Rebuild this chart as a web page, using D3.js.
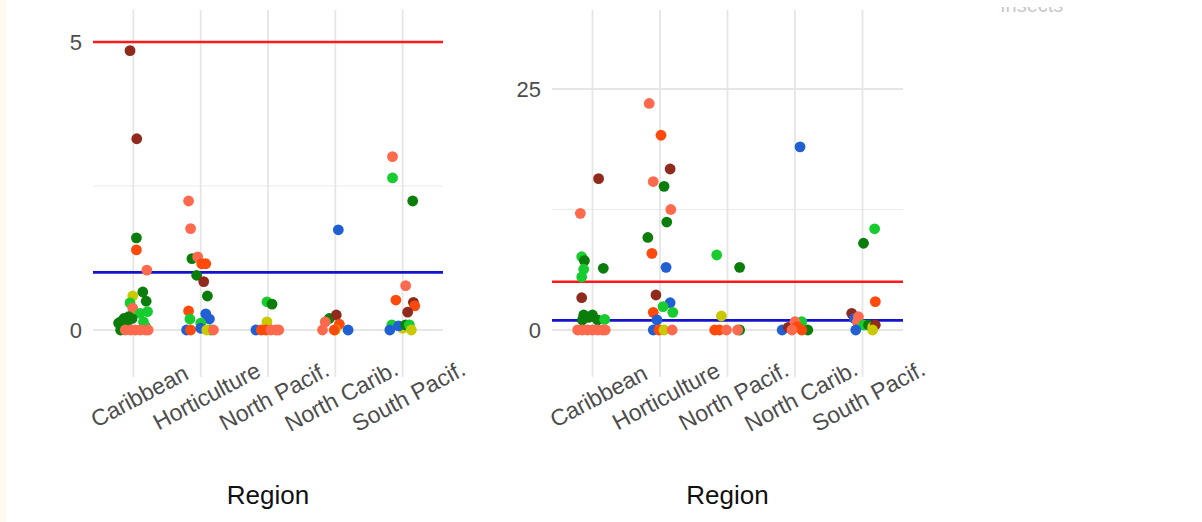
<!DOCTYPE html>
<html><head><meta charset="utf-8">
<script src="https://cdn.jsdelivr.net/npm/d3@7"></script>
<style>html,body{margin:0;padding:0;background:#fff;overflow:hidden}svg{display:block}</style>
</head><body><svg id="c" width="1202" height="522"></svg>
<script>
const regions = ["Caribbean","Horticulture","North Pacif.","North Carib.","South Pacif."];
const groups = ["DR","TO","OR","DG","GR","BL","YE"];
const groupColors = ["#8f2a1d","#ff6a4f","#ff4a0c","#0b7d0b","#17cc2f","#2060d2","#c9c900"];
const leftTicks = [0,5], leftMinor = [2.5], leftLines = [5,1];
const rightTicks = [0,25], rightMinor = [12.5], rightLines = [5,1];
const xTitle = "Region";
// [region, group, value, jitter (category units)]
const leftPoints = [
["Caribbean","DR",4.85,-0.05],["Caribbean","DR",3.32,0.05],["Caribbean","DG",1.60,0.045],["Caribbean","OR",1.39,0.045],
["Caribbean","TO",1.04,0.2],["Caribbean","YE",0.59,-0.01],["Caribbean","DG",0.66,0.14],["Caribbean","DG",0.50,0.19],
["Caribbean","GR",0.47,-0.05],["Caribbean","TO",0.38,-0.01],["Caribbean","GR",0.32,0.21],["Caribbean","GR",0.29,0.1],
["Caribbean","DG",0.14,-0.19],["Caribbean","DG",0.20,-0.14],["Caribbean","DG",0.23,-0.07],["Caribbean","DG",0.20,-0.02],
["Caribbean","DG",0.06,-0.16],["Caribbean","DG",0.12,-0.22],["Caribbean","DG",0.12,-0.1],["Caribbean","GR",0.14,0.15],
["Caribbean","GR",0.06,0.18],["Caribbean","DG",0.0,-0.19],["Caribbean","TO",0,-0.12],["Caribbean","TO",0,-0.04],
["Caribbean","TO",0,0.03],["Caribbean","TO",0,0.1],["Caribbean","TO",0,0.18],["Caribbean","TO",0,0.22],
["Horticulture","TO",2.24,-0.18],["Horticulture","TO",1.76,-0.15],["Horticulture","DG",1.24,-0.13],["Horticulture","TO",1.27,-0.045],
["Horticulture","OR",1.15,0.015],["Horticulture","OR",1.15,0.075],["Horticulture","DG",0.95,-0.06],["Horticulture","DR",0.84,0.045],
["Horticulture","DG",0.59,0.1],["Horticulture","OR",0.33,-0.18],["Horticulture","GR",0.19,-0.16],["Horticulture","BL",0.28,0.075],
["Horticulture","BL",0.19,0.13],["Horticulture","GR",0.12,0],["Horticulture","BL",0,-0.21],["Horticulture","OR",0,-0.15],
["Horticulture","BL",0.03,0],["Horticulture","GR",0,0.15],["Horticulture","YE",0,0.09],["Horticulture","TO",0,0.19],
["North Pacif.","GR",0.49,-0.015],["North Pacif.","DG",0.45,0.06],["North Pacif.","YE",0.14,-0.015],["North Pacif.","BL",0,-0.18],
["North Pacif.","OR",0,-0.1],["North Pacif.","OR",0,-0.03],["North Pacif.","TO",0,0.045],["North Pacif.","TO",0,0.12],["North Pacif.","TO",0,0.16],
["North Carib.","BL",1.74,0.045],["North Carib.","DG",0.2,-0.09],["North Carib.","DR",0.26,0.015],["North Carib.","TO",0.14,-0.15],
["North Carib.","OR",0.1,0.06],["North Carib.","TO",0,-0.19],["North Carib.","YE",0,0.0],["North Carib.","OR",0,-0.015],["North Carib.","BL",0,0.19],
["South Pacif.","TO",3.01,-0.15],["South Pacif.","GR",2.64,-0.15],["South Pacif.","DG",2.24,0.15],["South Pacif.","TO",0.77,0.045],
["South Pacif.","OR",0.52,-0.1],["South Pacif.","DR",0.48,0.16],["South Pacif.","OR",0.42,0.18],["South Pacif.","DR",0.31,0.075],
["South Pacif.","GR",0.09,-0.16],["South Pacif.","YE",0.03,0],["South Pacif.","BL",0.07,-0.06],["South Pacif.","DG",0.09,0.045],
["South Pacif.","GR",0.09,0.1],["South Pacif.","BL",0,-0.19],["South Pacif.","YE",0,0.13]
];
const rightPoints = [
["Caribbean","TO",12.1,-0.18],["Caribbean","DR",15.7,0.09],["Caribbean","GR",7.6,-0.16],["Caribbean","DG",7.2,-0.12],
["Caribbean","GR",6.3,-0.13],["Caribbean","GR",5.5,-0.16],["Caribbean","DG",6.4,0.16],["Caribbean","DR",3.35,-0.16],
["Caribbean","DG",1.56,-0.13],["Caribbean","DG",1.56,0],["Caribbean","DG",1.04,-0.15],["Caribbean","DG",1.04,0.075],
["Caribbean","GR",1.1,0.18],["Caribbean","DG",1.3,-0.06],["Caribbean","TO",0,-0.22],["Caribbean","TO",0,-0.15],
["Caribbean","TO",0,-0.075],["Caribbean","TO",0,0],["Caribbean","TO",0,0.075],["Caribbean","TO",0,0.15],["Caribbean","TO",0,0.19],
["Horticulture","TO",23.5,-0.16],["Horticulture","OR",20.2,0.015],["Horticulture","DR",16.7,0.15],["Horticulture","TO",15.4,-0.1],
["Horticulture","DG",14.9,0.06],["Horticulture","TO",12.5,0.16],["Horticulture","DG",11.2,0.1],["Horticulture","DG",9.6,-0.18],
["Horticulture","OR",7.95,-0.12],["Horticulture","BL",6.5,0.09],["Horticulture","DR",3.63,-0.06],["Horticulture","BL",2.83,0.15],
["Horticulture","GR",2.42,0.045],["Horticulture","GR",1.83,0.19],["Horticulture","OR",1.83,-0.1],["Horticulture","BL",1.04,-0.045],
["Horticulture","BL",0,-0.1],["Horticulture","OR",0,-0.015],["Horticulture","YE",0,0.06],["Horticulture","TO",0,0.18],
["North Pacif.","GR",7.78,-0.16],["North Pacif.","DG",6.5,0.18],["North Pacif.","YE",1.45,-0.09],["North Pacif.","OR",0,-0.19],
["North Pacif.","OR",0,-0.12],["North Pacif.","TO",0,-0.015],["North Pacif.","DG",0,0.18],["North Pacif.","TO",0,0.15],
["North Carib.","BL",19.0,0.075],["North Carib.","BL",0,-0.19],["North Carib.","DR",0.28,-0.1],["North Carib.","GR",0.86,0.1],
["North Carib.","TO",0.86,0],["North Carib.","OR",0.35,0.03],["North Carib.","DG",0,0.19],["North Carib.","OR",0,0.1],["North Carib.","TO",0,-0.045],
["South Pacif.","GR",10.5,0.18],["South Pacif.","DG",9.0,0.015],["South Pacif.","OR",2.94,0.19],["South Pacif.","DR",1.73,-0.16],
["South Pacif.","BL",1.2,-0.12],["South Pacif.","TO",1.38,-0.06],["South Pacif.","TO",0.86,-0.075],["South Pacif.","GR",0.52,0.015],
["South Pacif.","DG",0.52,0.09],["South Pacif.","YE",0.3,0.15],["South Pacif.","DR",0.52,0.19],["South Pacif.","BL",0,-0.1],["South Pacif.","YE",0,0.15]
];

const svg = d3.select("#c");
const font = "'Liberation Sans', Arial, sans-serif";
svg.append("rect").attr("x",0).attr("y",0).attr("width",6).attr("height",522).attr("fill","#fdf9ec");

// faint cut-off legend title at top right (cropped in the reference)
const clip = svg.append("defs").append("clipPath").attr("id","tclip");
clip.append("rect").attr("x",900).attr("y",7).attr("width",300).attr("height",8);
svg.append("text").attr("clip-path","url(#tclip)").attr("x",1000).attr("y",12)
  .attr("font-family",font).attr("font-size",20).attr("fill","#c8c8c8").text("Insects");

const color = d3.scaleOrdinal().domain(groups).range(groupColors);

function panel(x0, x1, yDomain, yRange, ticks, minor, lines, points){
  const g = svg.append("g");
  const x = d3.scalePoint().domain(regions).range([x0, x1]).padding(0.6);
  const y = d3.scaleLinear().domain(yDomain).range(yRange);
  const top = 10, bottom = 377;
  g.selectAll(".mn").data(minor).enter().append("line")
    .attr("x1",x0).attr("x2",x1).attr("y1",d=>y(d)).attr("y2",d=>y(d))
    .attr("stroke","#ececec").attr("stroke-width",1.2);
  g.selectAll(".mj").data(ticks).enter().append("line")
    .attr("x1",x0).attr("x2",x1).attr("y1",d=>y(d)).attr("y2",d=>y(d))
    .attr("stroke","#e6e6e6").attr("stroke-width",1.8);
  g.selectAll(".vx").data(regions).enter().append("line")
    .attr("x1",d=>x(d)).attr("x2",d=>x(d)).attr("y1",top).attr("y2",bottom)
    .attr("stroke","#e6e6e6").attr("stroke-width",1.8);
  const ya = d3.axisLeft(y).tickValues(ticks).tickFormat(d3.format("d")).tickSize(0).tickPadding(11);
  const yg = g.append("g").attr("transform",`translate(${x0},0)`).call(ya);
  yg.select(".domain").remove();
  yg.selectAll("text").attr("font-family",font).attr("font-size",22).attr("fill","#4d4d4d");
  g.selectAll(".hl").data(lines).enter().append("line")
    .attr("x1",x0).attr("x2",x1).attr("y1",d=>y(d)).attr("y2",d=>y(d))
    .attr("stroke",(d,i)=>i===0?"#ff1a1a":"#1414cc").attr("stroke-width",2.6);
  const step = x.step();
  g.selectAll("circle").data(points).enter().append("circle")
    .attr("cx",d=>x(d[0]) + d[3]*step).attr("cy",d=>y(d[2])).attr("r",5.4)
    .attr("fill",d=>color(d[1]));
  g.selectAll(".xl").data(regions).enter().append("text")
    .attr("transform",d=>`translate(${x(d)+6},396) rotate(-28)`)
    .attr("text-anchor","middle").attr("dominant-baseline","central")
    .attr("font-family",font).attr("font-size",23).attr("fill","#4d4d4d").text(d=>d);
  g.append("text").attr("x",(x0+x1)/2).attr("y",504).attr("text-anchor","middle")
    .attr("font-family",font).attr("font-size",26).attr("fill","#111").text(xTitle);
}
panel(93, 443, [0,5], [330,42], leftTicks, leftMinor, leftLines, leftPoints);
panel(552, 903, [0,25], [330,89], rightTicks, rightMinor, rightLines, rightPoints);
</script></body></html>
